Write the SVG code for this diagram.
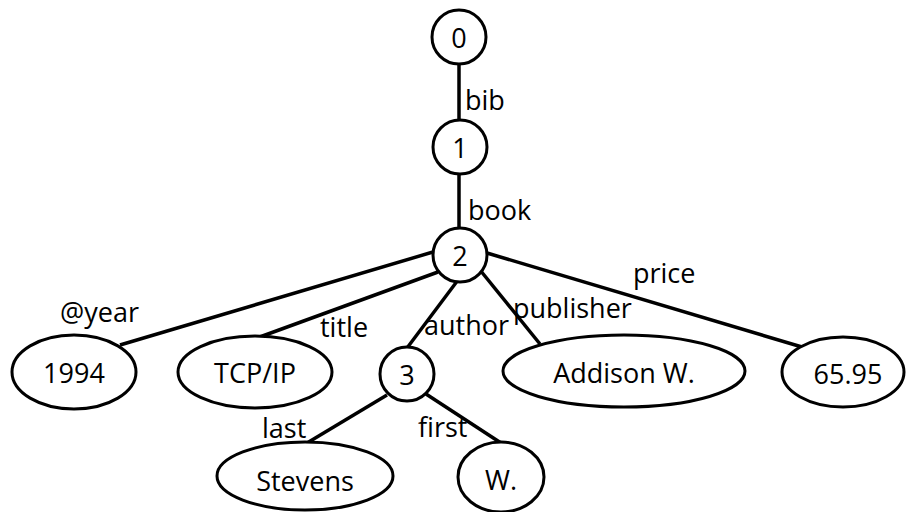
<svg xmlns="http://www.w3.org/2000/svg" width="908" height="512" viewBox="0 0 908 512">
<style>
.n{fill:#fff;stroke:#000;stroke-width:3}
.e{stroke:#000;stroke-width:3.5;fill:none}
text{font-family:"Open Sans","Liberation Sans",sans-serif;font-size:27px;fill:#000}
.c{text-anchor:middle}
</style>
<rect width="908" height="512" fill="#fff"/>
<g id="edges">
<line class="e" x1="459" y1="60" x2="459" y2="122"/>
<line class="e" x1="459" y1="170" x2="459" y2="230"/>
<line class="e" x1="433" y1="252" x2="120" y2="345"/>
<line class="e" x1="438" y1="272" x2="257" y2="338"/>
<line class="e" x1="458" y1="280" x2="407" y2="348"/>
<line class="e" x1="480" y1="270" x2="540" y2="344"/>
<line class="e" x1="487" y1="253" x2="802" y2="347"/>
<line class="e" x1="387" y1="395" x2="307" y2="443"/>
<line class="e" x1="426" y1="394" x2="501" y2="443"/>
</g>
<g id="edge-labels">
<text x="465" y="110">bib</text>
<text x="468" y="220">book</text>
<text x="60" y="322">@year</text>
<text x="320" y="337">title</text>
<text x="424" y="335">author</text>
<text x="513" y="318">publisher</text>
<text x="633" y="283">price</text>
<text x="262" y="438">last</text>
<text x="418" y="437">first</text>
</g>
<g id="n0"><circle class="n" cx="459" cy="37" r="27"/><text class="c" x="459" y="48">0</text></g>
<g id="n1"><circle class="n" cx="460" cy="147" r="27"/><text class="c" x="460" y="158">1</text></g>
<g id="n2"><circle class="n" cx="460" cy="255" r="27"/><text class="c" x="460" y="266">2</text></g>
<g id="n3"><circle class="n" cx="407" cy="374" r="27"/><text class="c" x="407" y="385">3</text></g>
<g id="n1994"><ellipse class="n" cx="74" cy="372" rx="62" ry="37"/><text class="c" x="74" y="383">1994</text></g>
<g id="ntcp"><ellipse class="n" cx="255" cy="372" rx="77" ry="36"/><text class="c" x="255" y="383">TCP/IP</text></g>
<g id="naddison"><ellipse class="n" cx="624" cy="371" rx="121" ry="36"/><text class="c" x="624" y="383">Addison W.</text></g>
<g id="nprice"><ellipse class="n" cx="843" cy="372" rx="61" ry="35"/><text class="c" x="848" y="384">65.95</text></g>
<g id="nstevens"><ellipse class="n" cx="305" cy="476" rx="88" ry="34"/><text class="c" x="305" y="491">Stevens</text></g>
<g id="nw"><ellipse class="n" cx="501" cy="477" rx="43" ry="35"/><text class="c" x="501" y="490">W.</text></g>
</svg>
